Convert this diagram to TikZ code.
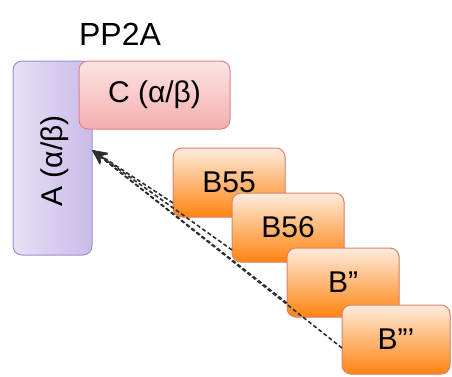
\documentclass[tikz,border=0pt]{standalone}
\usepackage{fontspec}
\setmainfont{Liberation Sans}
\usepackage{tikz}
\usetikzlibrary{arrows.meta}
\usetikzlibrary{positioning}
\usetikzlibrary{shadows}
\definecolor{aborder}{HTML}{9F8FCF}
\definecolor{aleft}{HTML}{E6E0F4}
\definecolor{aright}{HTML}{CABBEA}
\definecolor{cborder}{HTML}{D98585}
\definecolor{ctop}{HTML}{FDE4E4}
\definecolor{cbottom}{HTML}{F4AEAE}
\definecolor{bborder}{HTML}{D9826A}
\definecolor{btop}{HTML}{FDEBDD}
\definecolor{bbottom}{HTML}{FF8410}
\definecolor{dashgray}{HTML}{2E2E2E}

\begin{document}
\begin{tikzpicture}[font=\fontsize{30}{36}\selectfont, x=1pt, y=1pt,
                abox/.style={rectangle, rounded corners=9pt, draw=aborder, line width=1pt,
                    left color=aleft, right color=aright, outer sep=0pt,
                    minimum width=79pt, minimum height=194pt},
                cbox/.style={rectangle, rounded corners=9pt, draw=cborder, line width=1pt,
                    top color=ctop, bottom color=cbottom, outer sep=0pt,
                    minimum width=151pt, minimum height=68pt},
                bbox/.style={rectangle, rounded corners=9pt, draw=bborder, line width=1pt,
                    top color=btop, bottom color=bbottom, outer sep=0pt,
                    drop shadow={opacity=0.15, shadow xshift=1pt, shadow yshift=-1pt},
                    minimum width=112pt, minimum height=69pt},
                arrow/.style={draw=dashgray, line width=1.6pt, dash pattern=on 4pt off 2.5pt, -{Stealth[length=15pt, width=13pt]}}
            ]
            \useasboundingbox (0,0) rectangle (452,376);
            \node[anchor=base](title) at (120,331){\fontsize{32}{38}\selectfont PP2A};
            \node[abox](a) at (52.5,218){};
            \node[rotate=90] at (55,215){A (α/β)};
            \node[cbox](c) at (154.5,281){C (α/β)};
            \node[bbox](b55) at (229,193.5){B55};
            \node[bbox, below right=-24pt and -53pt of b55](b56){B56};
            \node[bbox, below right=-14pt and -57pt of b56](bb2){B''};
            \node[bbox, minimum width=108pt, below right=-12pt and -57pt of bb2](bb3){B'''};
            \coordinate (tip) at ([yshift=8pt]a.east);
            \path[arrow] ([yshift=14pt]b55.south west) -- (tip);
            \path[arrow] ([yshift=12pt]b56.south west) -- (tip);
            \path[arrow] ([yshift=14pt]bb2.south west) -- (tip);
            \path[arrow] ([yshift=26pt]bb3.south west) -- (tip);
        \end{tikzpicture}
\end{document}
